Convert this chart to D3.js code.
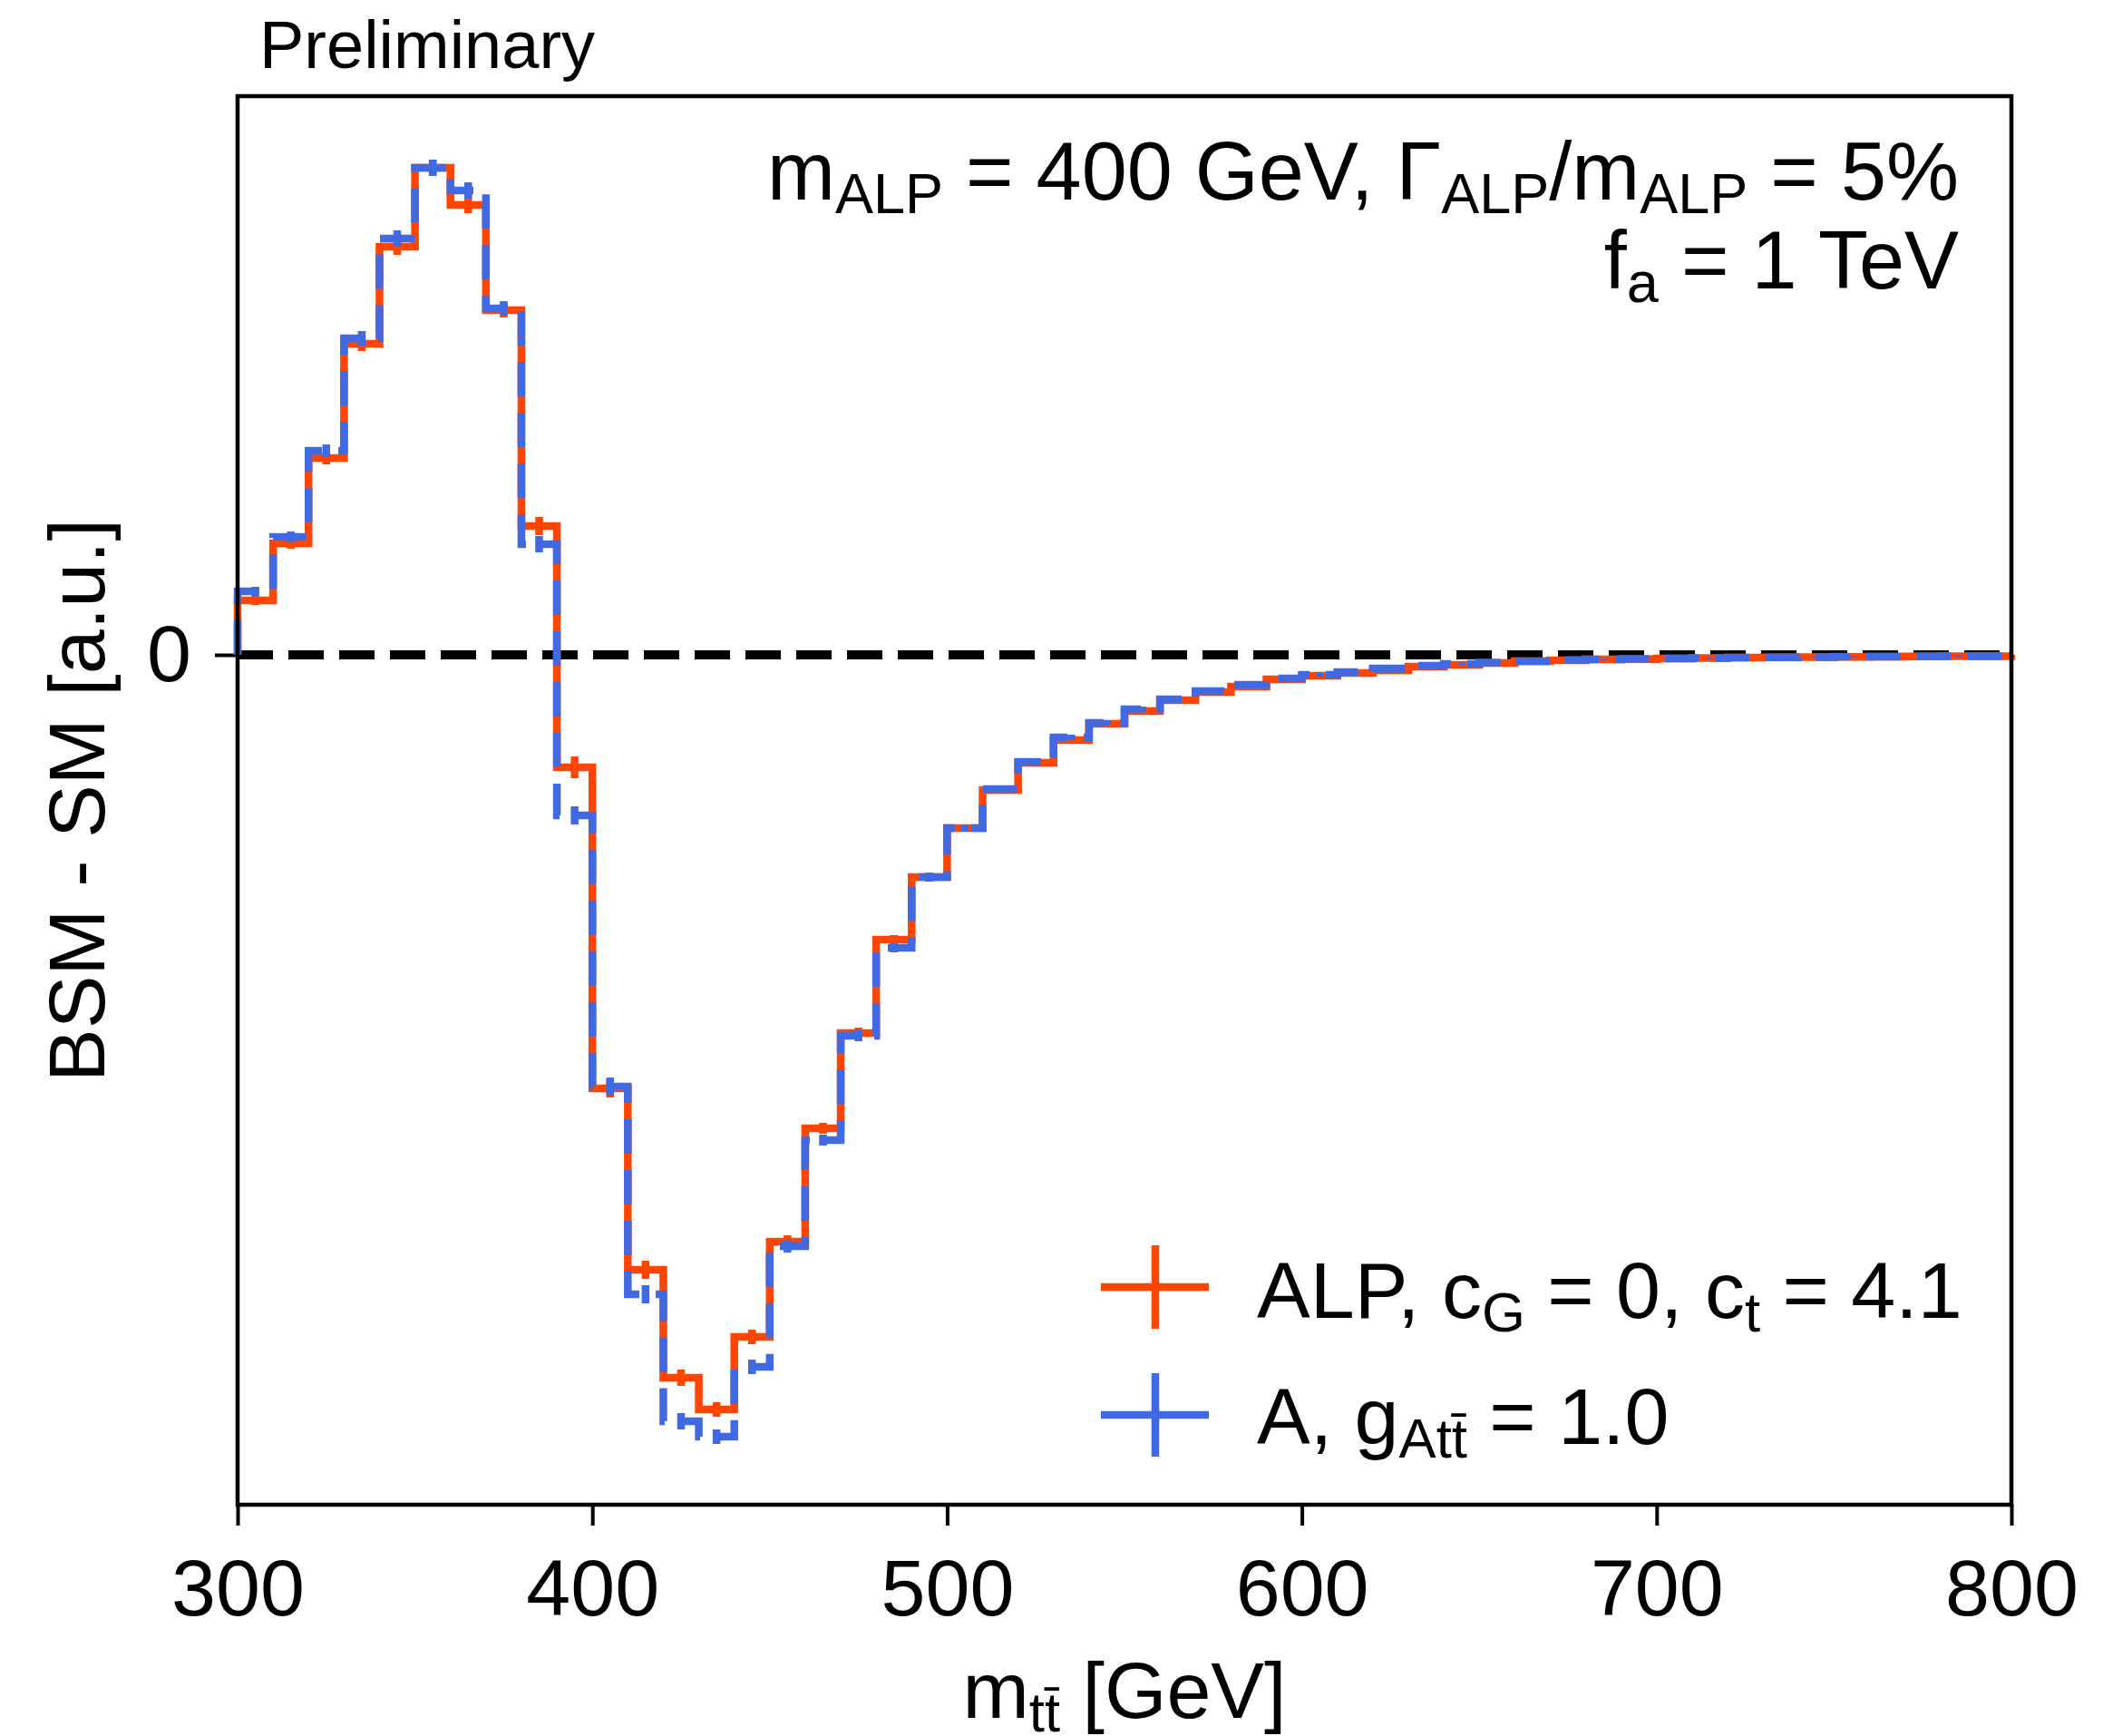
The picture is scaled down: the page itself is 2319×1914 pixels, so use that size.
<!DOCTYPE html>
<html>
<head>
<meta charset="utf-8">
<title></title>
<script src="https://d3js.org/d3.v7.min.js"></script>
<style>
  body { margin: 0; background: #fff; }
  text { font-family: "Liberation Sans", Arial, Helvetica, sans-serif; fill: #000; }
</style>
</head>
<body>
<div id="my_dataviz"></div>
<script>
// bins of m_tt (GeV), 10 GeV wide
var binEdges = d3.range(300, 801, 10);

// BSM - SM in arbitrary units, one entry per bin
var alpValues = [0.60, 1.23, 2.17, 3.43, 4.50, 5.37, 4.96, 3.80, 1.42, -1.24,
                 -4.78, -6.78, -7.97, -8.32, -7.52, -6.47, -5.22, -4.17, -3.14, -2.45,
                 -1.91, -1.49, -1.19, -0.94, -0.76, -0.62, -0.50, -0.41, -0.35, -0.27,
                 -0.23, -0.20, -0.17, -0.13, -0.11, -0.09, -0.07, -0.06, -0.05, -0.047,
                 -0.04, -0.035, -0.03, -0.028, -0.025, -0.022, -0.02, -0.018, -0.016, -0.015];
var alpErrors = [0.05, 0.06, 0.07, 0.08, 0.09, 0.09, 0.09, 0.08, 0.10, 0.12,
                 0.10, 0.10, 0.09, 0.08, 0.08, 0.07, 0.06, 0.06, 0.05, 0.05,
                 0.04, 0.04, 0.04, 0.03, 0.03, 0.03, 0.03, 0.02, 0.02, 0.02,
                 0.02, 0.02, 0.02, 0.02, 0.015, 0.015, 0.015, 0.015, 0.01, 0.01,
                 0.01, 0.01, 0.01, 0.01, 0.01, 0.01, 0.01, 0.01, 0.01, 0.01];

var aValues = [0.70, 1.30, 2.25, 3.49, 4.59, 5.37, 5.12, 3.82, 1.22, -1.77,
               -4.76, -7.05, -8.45, -8.62, -7.85, -6.52, -5.35, -4.20, -3.23, -2.45,
               -1.91, -1.48, -1.18, -0.91, -0.75, -0.60, -0.49, -0.40, -0.33, -0.26,
               -0.22, -0.19, -0.15, -0.12, -0.10, -0.085, -0.07, -0.058, -0.05, -0.045,
               -0.04, -0.034, -0.03, -0.027, -0.024, -0.021, -0.019, -0.017, -0.016, -0.014];
var aErrors = [0.05, 0.06, 0.07, 0.08, 0.09, 0.09, 0.09, 0.08, 0.09, 0.10,
               0.10, 0.10, 0.09, 0.08, 0.08, 0.07, 0.06, 0.06, 0.05, 0.05,
               0.04, 0.04, 0.04, 0.03, 0.03, 0.03, 0.03, 0.02, 0.02, 0.02,
               0.02, 0.02, 0.02, 0.02, 0.015, 0.015, 0.015, 0.015, 0.01, 0.01,
               0.01, 0.01, 0.01, 0.01, 0.01, 0.01, 0.01, 0.01, 0.01, 0.01];

var xTicks = [300, 400, 500, 600, 700, 800];
var yTicks = [0];
var yDomain = [-9.37, 6.16];

var colAlp = "#ff4500";
var colA = "#4169e1";

// dimensions
var W = 2319, H = 1914;
var margin = { top: 106, right: 101, bottom: 255, left: 262 };
var width = W - margin.left - margin.right;
var height = H - margin.top - margin.bottom;
var FS = 88;
var LW = 8.5;

var root = d3.select("#my_dataviz")
  .append("svg")
  .attr("width", W)
  .attr("height", H);

var svg = root.append("g")
  .attr("transform", "translate(" + margin.left + "," + margin.top + ")");

var x = d3.scaleLinear().domain([300, 800]).range([0, width]);
var y = d3.scaleLinear().domain(yDomain).range([height, 0]);

// x axis
var xAxis = svg.append("g")
  .attr("transform", "translate(0," + height + ")")
  .call(d3.axisBottom(x).tickValues(xTicks).tickSize(23).tickPadding(37).tickFormat(d3.format("d")));
xAxis.select(".domain").remove();
xAxis.selectAll("line").attr("stroke", "#000").attr("stroke-width", 4);
xAxis.selectAll("text").attr("font-size", FS).attr("font-family", null).style("fill", "#000");

// y axis
var yAxis = svg.append("g")
  .call(d3.axisLeft(y).tickValues(yTicks).tickSize(25).tickPadding(26));
yAxis.select(".domain").remove();
yAxis.selectAll("line").attr("stroke", "#000").attr("stroke-width", 4);
yAxis.selectAll("text").attr("font-size", FS).attr("font-family", null).style("fill", "#000");

// zero line
svg.append("line")
  .attr("x1", 0).attr("x2", width)
  .attr("y1", y(0)).attr("y2", y(0))
  .attr("stroke", "#000")
  .attr("stroke-width", 10)
  .attr("stroke-dasharray", "39,17");

// step histograms
function stepPoints(vals) {
  var pts = [[binEdges[0], 0]];
  vals.forEach(function(v, i) { pts.push([binEdges[i], v]); });
  pts.push([binEdges[binEdges.length - 1], vals[vals.length - 1]]);
  pts.push([binEdges[binEdges.length - 1], 0]);
  return pts;
}

var step = d3.line()
  .x(function(d) { return x(d[0]); })
  .y(function(d) { return y(d[1]); })
  .curve(d3.curveStepAfter);

function drawSeries(vals, errs, color, dash) {
  svg.append("path")
    .attr("d", step(stepPoints(vals)))
    .attr("fill", "none")
    .attr("stroke", color)
    .attr("stroke-width", LW)
    .attr("stroke-dasharray", dash);

  svg.append("g").selectAll("line")
    .data(vals)
    .enter()
    .append("line")
    .attr("x1", function(d, i) { return x(binEdges[i] + 5); })
    .attr("x2", function(d, i) { return x(binEdges[i] + 5); })
    .attr("y1", function(d, i) { return y(d - errs[i]); })
    .attr("y2", function(d, i) { return y(d + errs[i]); })
    .attr("stroke", color)
    .attr("stroke-width", LW);
}

drawSeries(alpValues, alpErrors, colAlp, null);
drawSeries(aValues, aErrors, colA, "38,18");

// frame
svg.append("rect")
  .attr("x", 0).attr("y", 0)
  .attr("width", width).attr("height", height)
  .attr("fill", "none")
  .attr("stroke", "#000")
  .attr("stroke-width", 4.5);

// text with subscripts: parts = [[string, isSub]]
function richText(parent, px, py, parts, anchor, size) {
  var t = parent.append("text")
    .attr("x", px).attr("y", py)
    .attr("font-size", size)
    .attr("text-anchor", anchor || "start");
  var shift = 0;
  parts.forEach(function(p) {
    var want = p[1] ? size * 0.17 : 0;
    t.append("tspan")
      .attr("font-size", p[1] ? size * 0.7 : size)
      .attr("dy", want - shift)
      .text(p[0]);
    shift = want;
  });
  return t;
}

// "Preliminary"
root.append("text")
  .attr("x", 286).attr("y", 75)
  .attr("font-size", 74)
  .text("Preliminary");

// annotation
richText(root, 2160, 220, [
  ["m", 0], ["ALP", 1], [" = 400 GeV, \u0393", 0], ["ALP", 1], ["/m", 0], ["ALP", 1], [" = 5%", 0]
], "end", 90);
richText(root, 2160, 318, [["f", 0], ["a", 1], [" = 1 TeV", 0]], "end", 90);

// legend
var legend = [
  { color: colAlp, parts: [["ALP, c", 0], ["G", 1], [" = 0, c", 0], ["t", 1], [" = 4.1", 0]] },
  { color: colA, parts: [["A, g", 0], ["Att\u0304", 1], [" = 1.0", 0]] }
];
legend.forEach(function(d, i) {
  var cy = 1419 + i * 141;
  root.append("line")
    .attr("x1", 1214).attr("x2", 1333).attr("y1", cy).attr("y2", cy)
    .attr("stroke", d.color).attr("stroke-width", LW);
  root.append("line")
    .attr("x1", 1274).attr("x2", 1274).attr("y1", cy - 46).attr("y2", cy + 46)
    .attr("stroke", d.color).attr("stroke-width", LW);
  richText(root, 1386, 1453 + i * 139, d.parts, "start", FS);
});

// axis labels
richText(root, margin.left + width / 2, 1894, [["m", 0], ["tt\u0304", 1], [" [GeV]", 0]], "middle", FS);

root.append("text")
  .attr("transform", "translate(115," + (margin.top + height / 2) + ") rotate(-90)")
  .attr("text-anchor", "middle")
  .attr("font-size", FS)
  .text("BSM - SM [a.u.]");
</script>
</body>
</html>
